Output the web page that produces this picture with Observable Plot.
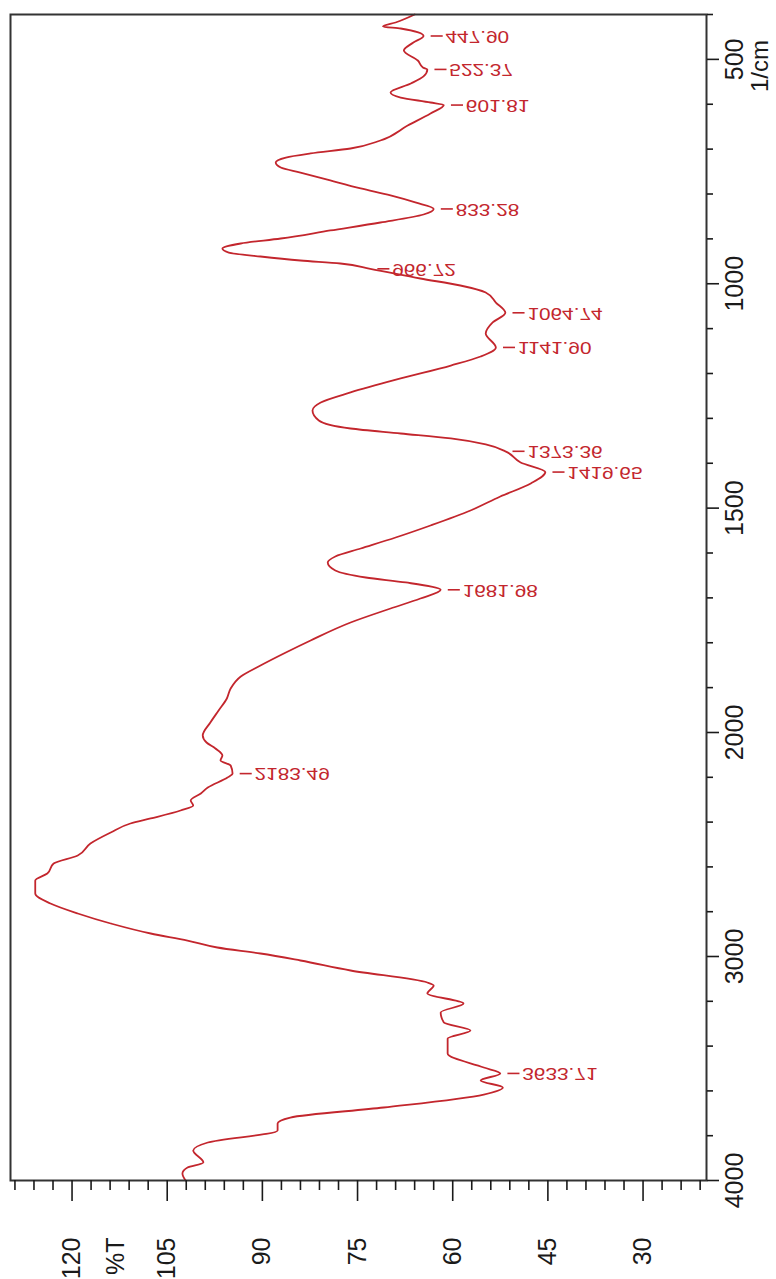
<!DOCTYPE html>
<html>
<head>
<meta charset="utf-8">
<script src="https://cdn.jsdelivr.net/npm/d3@7"></script>
<script src="https://cdn.jsdelivr.net/npm/@observablehq/plot@0.6"></script>
<style>
  html, body { margin: 0; padding: 0; background: #fff; }
  svg { display: block; }
</style>
</head>
<body>
<script>
// ---- data (wavenumber in 1/cm, transmittance in %T) ----
const wavenumber = [400, 417.8, 426.7, 431.2, 447.9, 462.4, 480.2, 502.5, 518.1, 522.4,
  538, 553.8, 573.8, 585, 596.1, 601.8, 620.6, 647.4, 680.8, 698.6,
  709.7, 718.7, 729.8, 740.9, 752.1, 769.9, 787.7, 803.3, 818.9, 833.3,
  845.7, 863.5, 881.3, 899.2, 910.3, 921.5, 930.4, 939.3, 948.2, 954.9,
  966.7, 988.3, 1003.9, 1019.5, 1041.8, 1064.7, 1086.3, 1110.9, 1141.9, 1162.1,
  1182.2, 1211.1, 1242.3, 1264.6, 1282.4, 1304.7, 1322.6, 1333.7, 1344.8, 1358.2,
  1373.4, 1398.3, 1419.7, 1445.1, 1474.1, 1505.3, 1538.7, 1565.5, 1590, 1607.8,
  1621.2, 1639, 1654.6, 1665.7, 1682, 1701.4, 1723.7, 1754.9, 1794.9, 1821.7,
  1850.7, 1875.2, 1901.9, 1924.2, 1951, 1977.7, 2013.4, 2044.6, 2071.4, 2102.7,
  2125, 2147.3, 2183.5, 2200.9, 2245.5, 2272.3, 2303.6, 2325.9, 2348.2, 2383.9,
  2406.3, 2446.4, 2495.5, 2549.1, 2584.8, 2629.5, 2660.7, 2718.8, 2763.4, 2808,
  2852.7, 2897.3, 2928.6, 2959.8, 2986.6, 3017.9, 3062.5, 3116.1, 3129.5, 3165.2,
  3209.8, 3250, 3294.6, 3330.4, 3366.1, 3433, 3495.5, 3522.3, 3553.6, 3584.8,
  3616.1, 3674.1, 3718.8, 3745.5, 3776.8, 3830.4, 3866.1, 3919.6, 3941.9, 3968.8,
  4000];
const transmittance = [66.0, 69.0, 71.0, 68.2, 64.6, 66.2, 67.7, 65.5, 64.7, 64.0,
  64.6, 66.6, 69.8, 68.2, 63.5, 61.4, 63.5, 67.1, 71.4, 76.1,
  82.4, 86.3, 87.9, 87.1, 84.0, 79.3, 74.5, 69.8, 65.9, 63.0,
  64.6, 71.4, 79.3, 87.1, 93.4, 96.3, 95.3, 90.3, 84.0, 77.7,
  73.0, 65.1, 58.8, 54.8, 53.2, 51.7, 53.7, 54.8, 53.2, 55.6,
  60.3, 68.2, 76.1, 80.8, 82.1, 81.1, 76.1, 68.2, 60.3, 54.8,
  51.7, 49.3, 45.4, 47.7, 52.5, 57.2, 63.5, 69.0, 74.5, 78.5,
  79.7, 78.5, 73.7, 67.4, 61.9, 65.1, 69.8, 76.1, 82.4, 86.3,
  90.3, 93.4, 95.0, 95.6, 96.9, 98.2, 99.4, 98.8, 97.4, 96.3,
  96.6, 95.0, 94.7, 95.5, 98.6, 99.7, 101.3, 100.9, 102.9, 107.6,
  110.8, 113.9, 117.1, 119.1, 122.9, 123.9, 125.8, 125.8, 123.4, 119.1,
  113.9, 107.6, 101.8, 97.1, 90.3, 84.0, 76.1, 64.0, 63.0, 64.0,
  58.3, 61.9, 61.4, 57.2, 60.8, 60.8, 55.1, 52.5, 55.6, 52.1,
  55.1, 70.9, 85.6, 87.6, 87.6, 98.6, 100.9, 99.3, 101.8, 102.6,
  102.1];

// peak labels: text, position on the wavenumber axis, %T of the dip
const peakText = ["447.90", "522.37", "601.81", "833.28", "966.72", "1064.74", "1141.90", "1373.36", "1419.65", "1681.98", "2183.49", "3633.71"];
const peakWn   = [447.9, 522.37, 601.81, 833.28, 966.72, 1064.74, 1141.9, 1373.36, 1419.65, 1681.98, 2183.49, 3522];
const peakT    = [64.6, 64.0, 61.4, 63.0, 73.0, 51.7, 53.2, 51.7, 45.4, 61.9, 94.7, 52.5];

// axis ticks
const tTicksMajor = [120, 105, 90, 75, 60, 45, 30];
const tTicksMinor = [129, 126, 123, 117, 114, 111, 108, 102, 99, 96, 93, 87, 84, 81, 78, 72, 69, 66, 63, 57, 54, 51, 48, 42, 39, 36, 33, 27, 24, 21];
const wnTicksMajor = [500, 1000, 1500, 2000, 3000, 4000];
const wnTicksMinor = [400, 600, 700, 800, 900, 1100, 1200, 1300, 1400, 1600, 1700, 1800, 1900, 2200, 2400, 2600, 2800, 3200, 3400, 3600, 3800];
const tTitle = {text: "%T", at: 113};
const wnTitle = {text: "1/cm", at: 515};

// ---- build ----
const spectrum = wavenumber.map((w, i) => ({wn: w, t: transmittance[i]}));
const peaks = peakText.map((s, i) => ({label: s, wn: peakWn[i], t: peakT[i]}));
const red = "#c3262d";
const ink = "#1a1a1a";

const chart = Plot.plot({
  width: 776,
  height: 1279,
  marginLeft: 10,
  marginRight: 70,
  marginTop: 14,
  marginBottom: 99,
  x: {type: "linear", domain: [129.7, 20], range: [10, 706]},
  y: {type: "linear", domain: [400, 2000, 4000], range: [14, 732, 1180]},
  style: {fontFamily: "'Liberation Sans', Arial, sans-serif", background: "#fff", color: ink},
  marks: [
    Plot.line(spectrum, {x: "t", y: "wn", stroke: red, strokeWidth: 1.8, curve: "monotone-y"}),
    Plot.ruleY(peaks, {y: "wn", x1: d => d.t - 1.2, x2: d => d.t - 3.1, stroke: red, strokeWidth: 1.6}),
    Plot.text(peaks, {x: "t", y: "wn", text: "label", dx: 22, textAnchor: "start", lineAnchor: "middle", fontSize: 16, fill: red}),
    Plot.frame({stroke: "#333", strokeWidth: 2}),
    Plot.axisX({anchor: "bottom", ticks: tTicksMajor, tickSize: 21, tickFormat: () => "", label: null, stroke: ink, strokeWidth: 1.6}),
    Plot.axisX({anchor: "bottom", ticks: tTicksMinor, tickSize: 10, tickFormat: () => "", label: null, stroke: ink, strokeWidth: 1.6}),
    Plot.axisY({anchor: "right", ticks: wnTicksMajor, tickSize: 12, tickFormat: () => "", label: null, stroke: ink, strokeWidth: 1.6}),
    Plot.axisY({anchor: "right", ticks: wnTicksMinor, tickSize: 6, tickFormat: () => "", label: null, stroke: ink, strokeWidth: 1.6}),
    Plot.text(tTicksMajor, {x: d => d, text: d => String(d), frameAnchor: "bottom", dy: 57, rotate: -90, textAnchor: "end", lineAnchor: "middle", fontSize: 25, fill: ink}),
    Plot.text([tTitle], {x: "at", text: "text", frameAnchor: "bottom", dy: 57, rotate: -90, textAnchor: "end", lineAnchor: "middle", fontSize: 25, fill: ink}),
    Plot.text(wnTicksMajor, {y: d => d, text: d => String(d), frameAnchor: "right", dx: 28, rotate: -90, textAnchor: "middle", lineAnchor: "middle", fontSize: 25, fill: ink}),
    Plot.text([wnTitle], {y: "at", text: "text", frameAnchor: "right", dx: 54, rotate: -90, textAnchor: "middle", lineAnchor: "middle", fontSize: 24, fill: ink})
  ]
});

// peak labels are drawn mirrored top-to-bottom and widened, as in the original print
const labelSet = new Set(peakText);
chart.querySelectorAll("text").forEach(t => {
  if (!labelSet.has(t.textContent)) return;
  const tr = t.getAttribute("transform") || "";
  if (/translate/.test(tr)) {
    t.setAttribute("transform", `${tr} scale(1.3,-1)`);
  } else {
    const x = parseFloat(t.getAttribute("x")), y = parseFloat(t.getAttribute("y"));
    if (isFinite(x) && isFinite(y) && !/em/.test(t.getAttribute("y"))) {
      t.removeAttribute("x"); t.removeAttribute("y");
      t.setAttribute("transform", `translate(${x},${y}) scale(1.3,-1)`);
    }
  }
});

document.body.appendChild(chart);
</script>
</body>
</html>
